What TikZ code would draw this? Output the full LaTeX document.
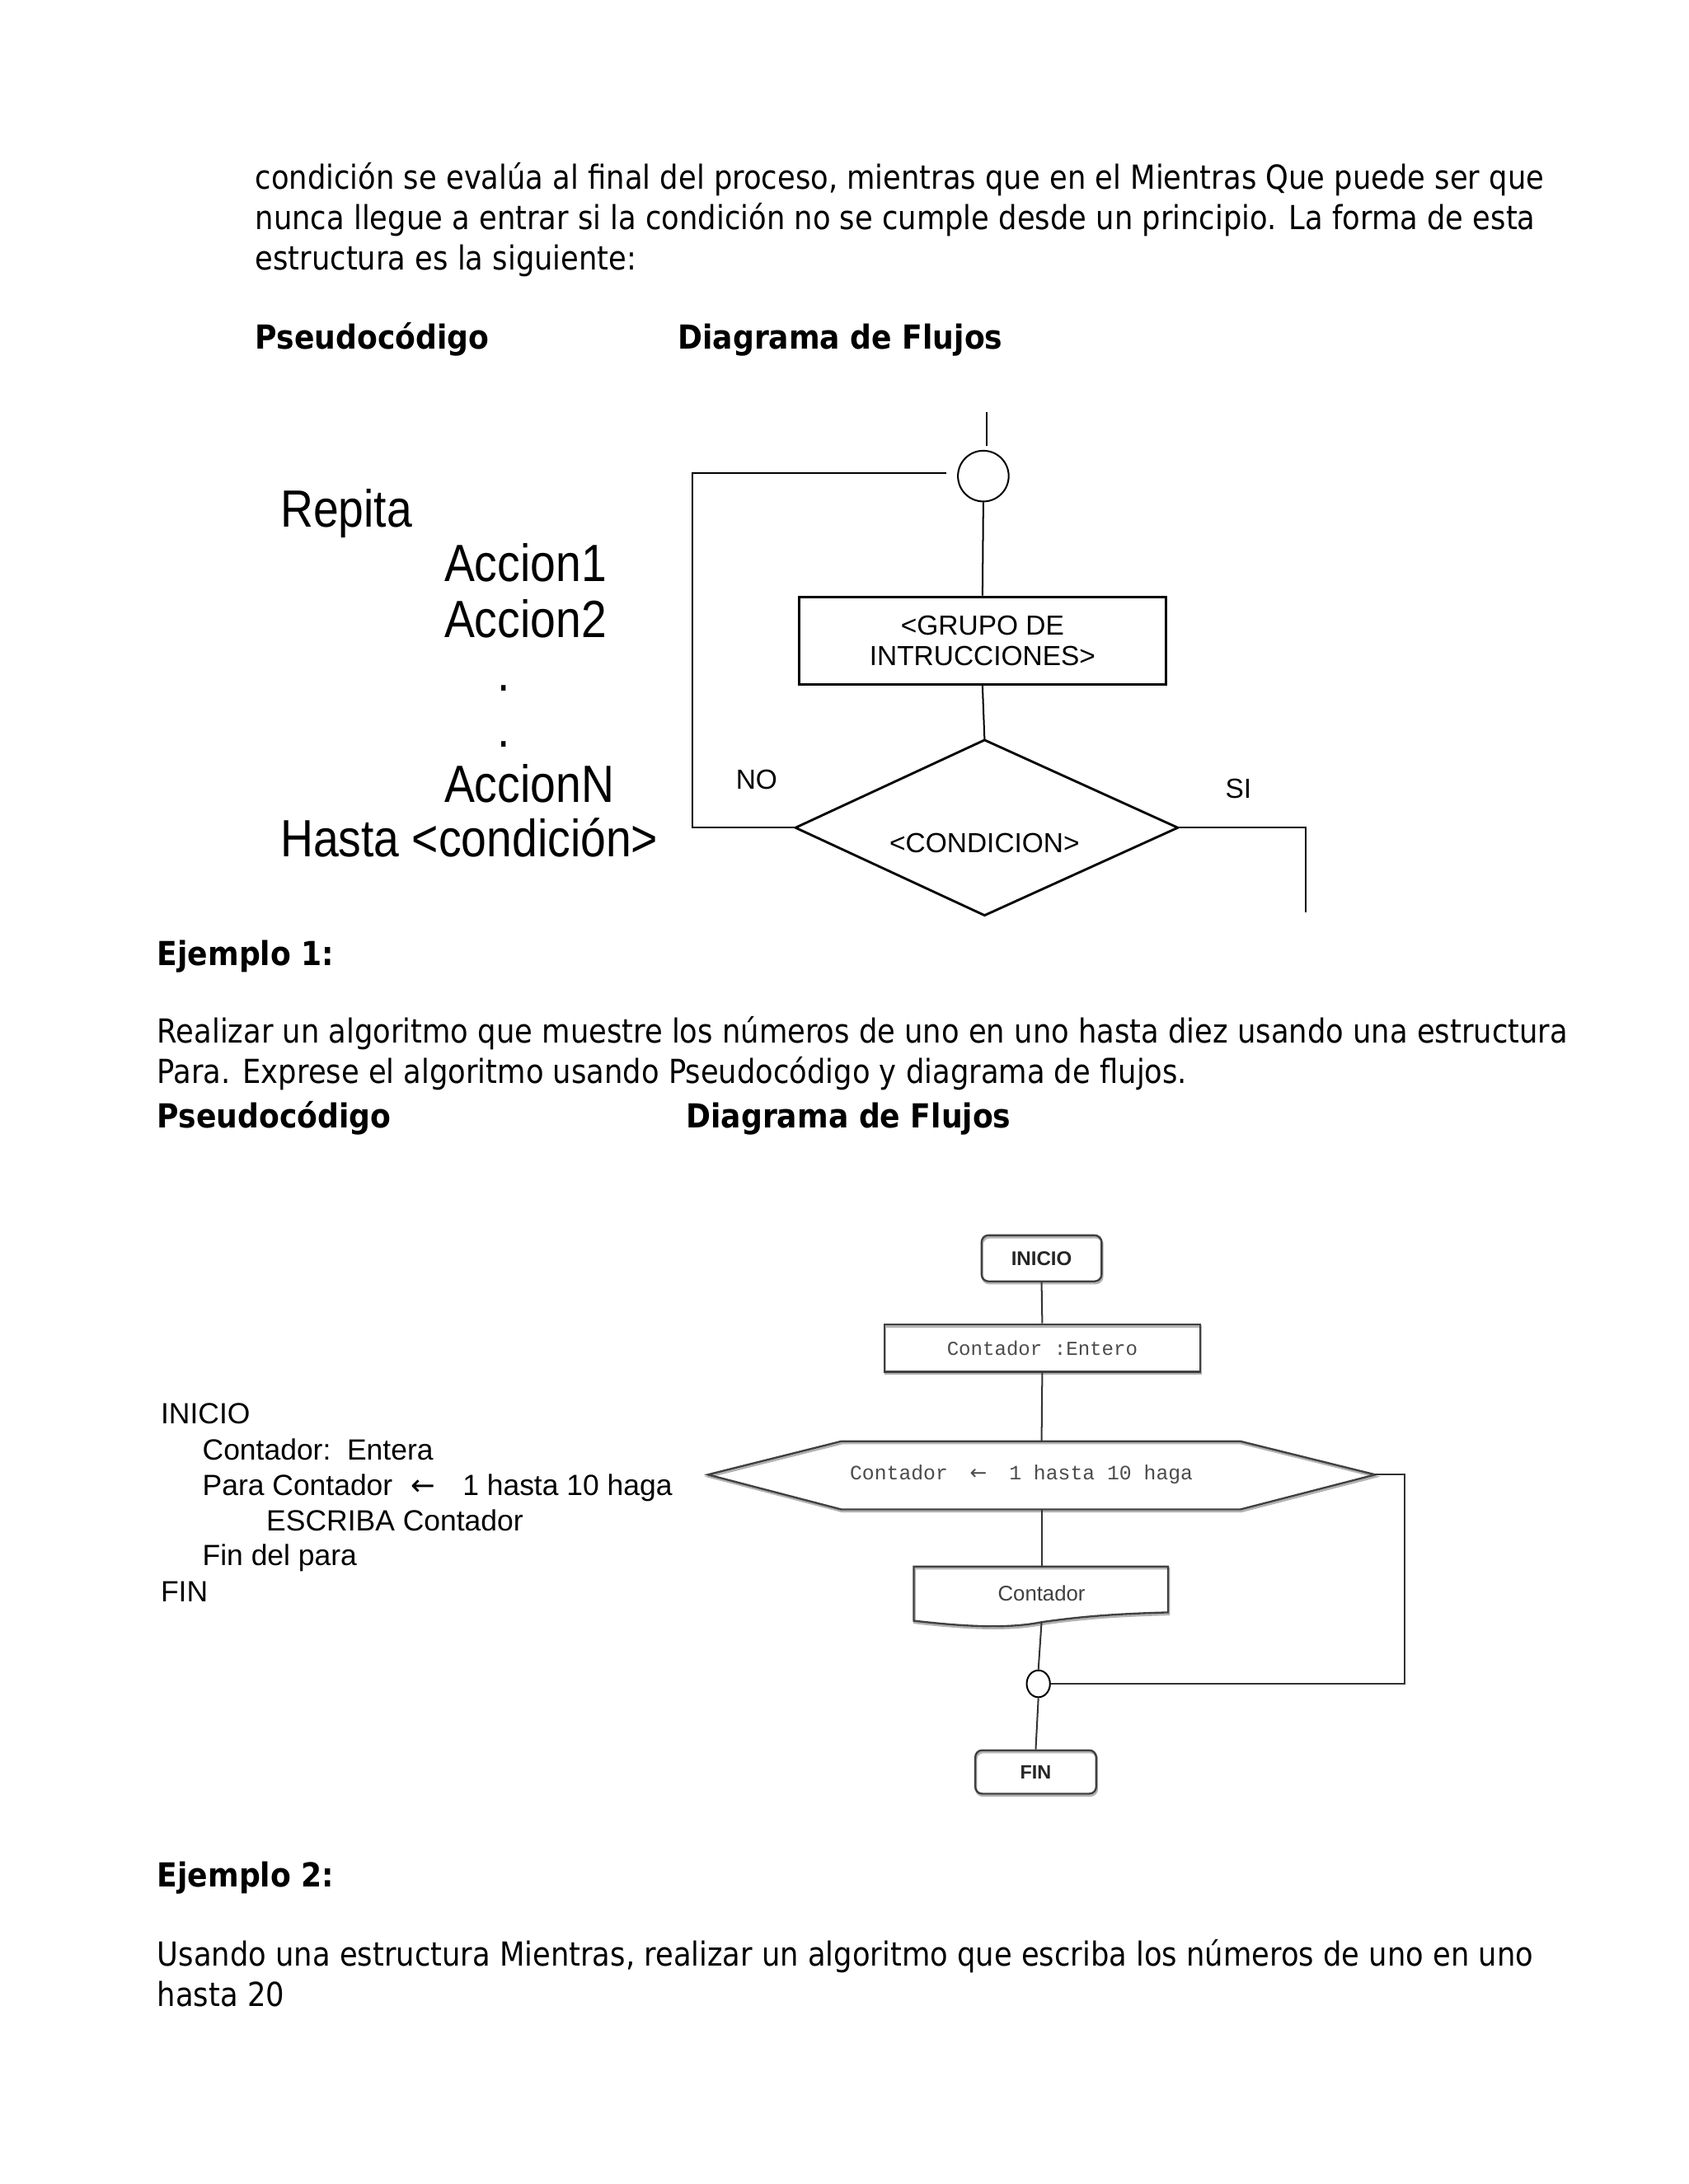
\documentclass[tikz,border=0pt]{standalone}
\usepackage{fontspec}
\usetikzlibrary{shapes.geometric,shadows}
\setmainfont{DejaVu Sans}[FakeStretch=0.88]
\newfontfamily\tahb{DejaVu Sans}[FakeStretch=0.9]
\newfontfamily\arial{Liberation Sans}
\newfontfamily\arialn{Liberation Sans}[FakeStretch=0.87]
\newfontfamily\mono{Liberation Mono}
\newfontfamily\dvs{DejaVu Sans}
\begin{document}
\begin{tikzpicture}[x=0.504pt,y=-0.50455pt,
  body/.style={anchor=base west,inner sep=0,font=\fontsize{12}{14}\selectfont},
  bodyb/.style={anchor=base west,inner sep=0,font=\tahb\bfseries\fontsize{12}{14}\selectfont},
  pcone/.style={anchor=base west,inner sep=0,font=\arialn\fontsize{19}{20}\selectfont},
  pctwo/.style={anchor=base west,inner sep=0,font=\arial\fontsize{10.6}{12}\selectfont},
  lbl/.style={inner sep=0,font=\arial\fontsize{10}{11}\selectfont},
  ln/.style={line width=0.6pt,draw=black},
  shp/.style={line width=0.85pt,draw=black},
  fcl/.style={line width=0.6pt,draw=black!80},
  fcs/.style={line width=0.7pt,draw=black!75},
  shd/.style={general shadow={draw=black!30,line width=0.8pt,shadow xshift=0.3pt,shadow yshift=-0.7pt}},
  fctxt/.style={inner sep=0,text=black!75},
]
\useasboundingbox[fill=white] (0pt,0pt) rectangle (612.1pt,-792pt);
\begin{scope}[shift={(1.15pt,-0.95pt)}]

% ---------- intro text ----------
\node[body] (p1) at (181,134) {condición se evalúa al final del proceso, mientras que en el Mientras Que puede ser que};
\node[body] (p2) at (181,163) {nunca llegue a entrar si la condición no se cumple desde un principio. La forma de esta};
\node[body] (p3) at (181,192) {estructura es la siguiente:};
\node[bodyb] (h1) at (181,249) {Pseudocódigo};
\node[bodyb] (h2) at (485,249) {Diagrama de Flujos};

% ---------- pseudocode 1 ----------
\node[pcone] (r1) at (199,377) {Repita};
\node[pcone] (r2) at (317,416) {Accion1};
\node[pcone] (r3) at (317,456) {Accion2};
\node[pcone] (r4) at (355,495) {.};
\node[pcone] (r5) at (355,535) {.};
\node[pcone] (r6) at (317,575) {AccionN};
\node[pcone] (r7) at (199,614) {Hasta <condición>};

% ---------- diagram 1 ----------
\coordinate (top1) at (707.6,294.2);
\node[circle,draw,line width=0.6pt,minimum size=18.4pt,inner sep=0] (c1) at (705.1,340.3) {};
\node[draw,line width=0.9pt,minimum width=133pt,minimum height=31.8pt,inner sep=0,align=center,font=\arial\fontsize{10}{11}\selectfont] (grp) at (704.5,458.5) {<GRUPO DE\\INTRUCCIONES>};
\coordinate (dT) at (706,530);
\coordinate (dL) at (570,593);
\coordinate (dR) at (845,593);
\coordinate (dB) at (706,656);
\draw[shp] (dT) -- (dR) -- (dB) -- (dL) -- cycle;
\node[lbl,anchor=base] (cond) at (706,611) {<CONDICION>};
\node[lbl,anchor=base] (no) at (542,565) {NO};
\node[lbl,anchor=base] (si) at (888.6,572) {SI};
\coordinate (nl) at (496,338);
\coordinate (nb) at (496,593);
\coordinate (sr) at (937,593);
\coordinate (sb) at (937,654);
\draw[ln,shorten >=1.6pt] (top1) -- (top1 |- c1.north);
\draw[ln] (c1.south) -- (grp.north);
\draw[ln] (grp.south) -- (dT);
\draw[ln,shorten >=4pt] (dL) -- (nb) -- (nl) -- (nl -| c1.west);
\draw[ln] (dR) -- (sr) -- (sb);

% ---------- ejemplo 1 ----------
\node[bodyb] (e1) at (110.5,692) {Ejemplo 1:};
\node[body] (q1) at (110.5,748) {Realizar un algoritmo que muestre los números de uno en uno hasta diez usando una estructura};
\node[body] (q2) at (110.5,777) {Para. Exprese el algoritmo usando Pseudocódigo y diagrama de flujos.};
\node[bodyb] (h3) at (110.5,809) {Pseudocódigo};
\node[bodyb] (h4) at (491,809) {Diagrama de Flujos};

% ---------- pseudocode 2 ----------
\node[pctwo] (s1) at (113,1021.5) {INICIO};
\node[pctwo] (s2) at (143,1047.5) {Contador:\ \ Entera};
\node[pctwo] (s3) at (143,1073) {Para Contador\hspace{6.5pt}{\dvs ←}\hspace{10pt}1 hasta 10 haga};
\node[pctwo] (s4) at (189,1098.5) {ESCRIBA Contador};
\node[pctwo] (s5) at (143,1123.5) {Fin del para};
\node[pctwo] (s6) at (113,1149.5) {FIN};

% ---------- diagram 2 ----------
\node[fcs,shd,rounded corners=2.5pt,minimum width=43.5pt,minimum height=16.7pt,inner sep=0,font=\arial\bfseries\fontsize{7.2}{8}\selectfont,text=black!85] (ini) at (747,902.5) {INICIO};
\node[fcs,shd,minimum width=114.5pt,minimum height=17.2pt,inner sep=0,font=\mono\fontsize{7.2}{8}\selectfont,text=black!70] (ent) at (747.5,967) {Contador :Entero};
\coordinate (hL) at (507,1058);
\coordinate (hTL) at (603,1034);
\coordinate (hT) at (747,1034);
\coordinate (hTR) at (890,1034);
\coordinate (hR) at (987,1058);
\coordinate (hBR) at (890,1083);
\coordinate (hB) at (747,1083);
\coordinate (hBL) at (603,1083);
\draw[fcs,shd] (hL) -- (hTL) -- (hTR) -- (hR) -- (hBR) -- (hBL) -- cycle;
\node[fctxt,text=black!70,font=\mono\fontsize{7.4}{8}\selectfont] (para) at (732.5,1058) {Contador\ \ \makebox[4.44pt]{\dvs\fontsize{7.4}{8}\selectfont ←}\ \ 1 hasta 10 haga};
\coordinate (oT) at (747,1124);
\coordinate (oB) at (747,1164);
\draw[fcs,shd] (655,1124) -- (838,1124) -- (838,1157)
  .. controls (800,1158) and (775,1160) .. (oB)
  .. controls (722,1169) and (690,1167) .. (655,1163) -- cycle;
\node[fctxt,font=\arial\fontsize{7.7}{8}\selectfont] (out) at (747,1143) {Contador};
\node[ellipse,draw,line width=0.6pt,minimum width=8.45pt,minimum height=9.75pt,inner sep=0] (c2) at (744.7,1208.3) {};
\node[fcs,shd,rounded corners=2.5pt,minimum width=43.85pt,minimum height=15.75pt,inner sep=0,font=\arial\bfseries\fontsize{7}{8}\selectfont,text=black!85] (fin) at (742.8,1271.7) {FIN};
\coordinate (lr) at (1008.1,1208.3);
\coordinate (ur) at (1008.1,1058);
\draw[fcl] (ini.south) -- (ent.north);
\draw[fcl] (ent.south) -- (hT);
\draw[fcl] (hB) -- (oT);
\draw[fcl] (oB) -- (c2.north);
\draw[fcl] (c2.east) -- (lr) -- (ur) -- (hR);
\draw[fcl] (c2.south) -- (fin.north);

% ---------- ejemplo 2 ----------
\node[bodyb] (e2) at (110.5,1354) {Ejemplo 2:};
\node[body] (u1) at (110.5,1411) {Usando una estructura Mientras, realizar un algoritmo que escriba los números de uno en uno};
\node[body] (u2) at (110.5,1440) {hasta 20};
\end{scope}
\end{tikzpicture}
\end{document}
